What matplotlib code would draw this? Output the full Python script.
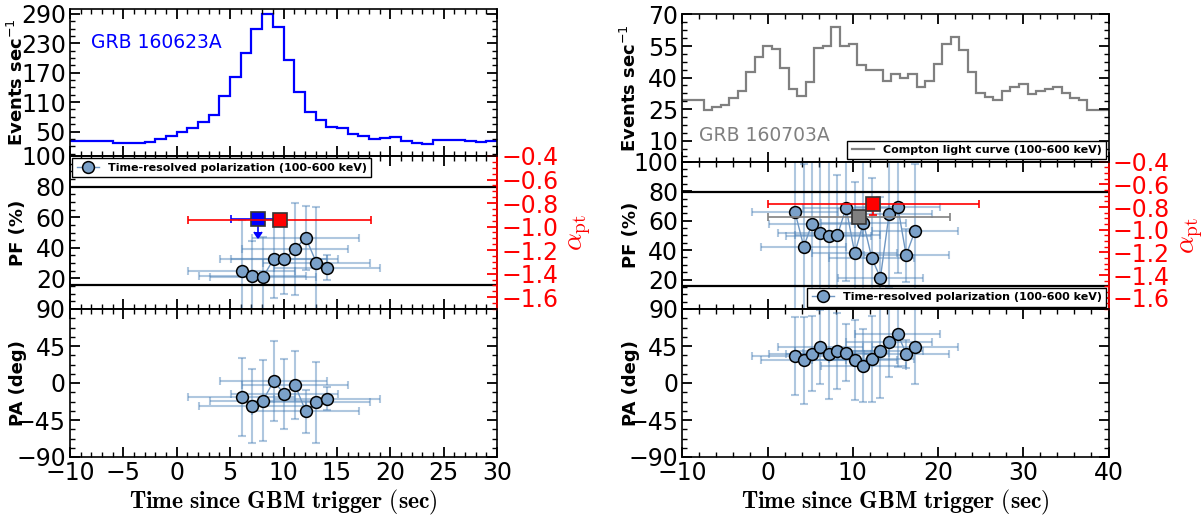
import numpy as np
import matplotlib
matplotlib.use('Agg')
import matplotlib.pyplot as plt
from matplotlib.ticker import MultipleLocator, AutoMinorLocator, FuncFormatter
from matplotlib.lines import Line2D

plt.rcParams['font.family'] = ['DejaVu Sans']

# ---------------- data: GRB 160623A ----------------
lc1_edges = np.arange(-10, 31, 1)
lc1_rate = [31, 31, 30.5, 31, 27, 27, 27, 28.5, 34, 40, 49, 57.5, 69, 83.5,
            122, 161, 211, 260, 290, 263, 195, 130, 90, 73, 60, 58, 45.5, 40,
            35.5, 37.5, 38.5, 30, 27.5, 25.5, 32, 32.5, 32, 30, 28.5, 31.5]
t1 = [6.08, 7.08, 8.08, 9.08, 10.08, 11.08, 12.08, 13.08, 14.08]
t1_err = [5, 5, 5, 5, 5, 5, 5, 5, 5]
pf1 = [25.0, 21.6, 20.9, 32.7, 32.7, 39.2, 46.6, 30.3, 27.0]
pf1_err = [33, 23, 26, 25.7, 23, 30, 21, 36.6, 8]
pa1 = [-16.8, -28.0, -21.3, 2.3, -13.5, -2.4, -34.4, -23.4, -19.2]
pa1_err = [47.5, 45.5, 49.7, 48.5, 42.5, 41.4, 26.4, 49.3, 13.8]
int1_t, int1_terr, int1_pf, int1_pferr = 7.6, 2.5, 58.6, 8.0
alpha1_t, alpha1_terr, alpha1 = 9.65, 8.55, -0.94

# ---------------- data: GRB 160703A ----------------
lc2_edges = np.arange(-10.5, 41.5, 1)
lc2_rate = [29.5, 29.5, 29.5, 24.4, 26, 27.1, 30.3, 33.5, 42.8, 49.8, 55.1,
            53.8, 44.7, 34.6, 31.4, 37.7, 54, 55.1, 64.2, 54.9, 55.9, 45.8,
            43.8, 43.8, 38.5, 41.8, 39.6, 41.8, 35.4, 38.6, 46.6, 55.9, 59.1,
            52.9, 42.6, 32.7, 30.6, 29.5, 33.7, 35.6, 36.9, 32.4, 33.8, 34.6,
            35.6, 32.7, 30.4, 29.5, 24.4, 24.4, 24.4]
t2 = [3.23, 4.25, 5.22, 6.2, 7.18, 8.2, 9.21, 10.23, 11.25, 12.23, 13.24,
      14.26, 15.28, 16.26, 17.31]
t2_err = [5] * 15
pf2 = [65.7, 42.3, 57.9, 51.6, 49.4, 50.0, 68.8, 37.8, 58.6, 34.6, 21.2,
       64.6, 69.5, 36.6, 53.2]
pf2_err = [70, 56, 55, 60, 55, 41, 50, 48.5, 45, 54.3, 55, 50, 45, 18, 45]
pa2 = [32.8, 27.6, 35.7, 43.8, 35.7, 38.9, 36.9, 28.4, 20.7, 29.2, 39.3,
       50.3, 59.6, 35.3, 43.8]
pa2_err = [47, 53, 46, 44.6, 54.6, 46, 35, 48.6, 44.4, 52, 57, 42.8, 39.6,
           16.5, 45.6]
int2_t, int2_terr, int2_pf, int2_pferr = 10.7, 10.7, 62.6, 4.0
alpha2_t, alpha2_terr, alpha2 = 12.4, 12.4, -0.777
alpha2_err = [[0.09], [0.03]]

alpha_limits = [-2.0 / 3.0, -1.5]
lc_yticks1 = [50, 110, 170, 230, 290]
lc_yticks2 = [10, 25, 40, 55, 70]
pf_yticks = [20, 40, 60, 80, 100]
pa_yticks = [-90, -45, 0, 45, 90]
alpha_yticks = [-0.4, -0.6, -0.8, -1.0, -1.2, -1.4, -1.6]

# ---------------- style ----------------
MFC = '#7ba1c9'
ECOL = '#4f83b8'
LCOL = '#6f97c2'
LABFS = 17

W, H = 1203.0, 516.0
fig = plt.figure(figsize=(W / 100, H / 100), dpi=100)


def add_ax(x0, x1, ytop, ybot):
    return fig.add_axes([x0 / W, 1 - ybot / H, (x1 - x0) / W, (ybot - ytop) / H])


def style(ax, right=True):
    ax.tick_params(which='both', direction='in', top=True, right=right,
                   labelsize=LABFS, pad=3)
    ax.tick_params(which='major', length=7, width=1.3)
    ax.tick_params(which='minor', length=3.5, width=1.0)
    for s in ax.spines.values():
        s.set_linewidth(1.2)


def red_fmt(v, p):
    return f'{v:.1f}'.replace('-', '\u2212')


def build(xl, xr, ytops, xlim, xmaj, xmin, lc_edges, lc_rate, lc_color,
          lc_ylim, lc_yticks, grb, grb_pos, t, terr, pf, pferr, pa, paerr,
          integ, alpha, legend_loc, top_legend):
    axt = add_ax(xl, xr, ytops[0], ytops[1])
    axm = add_ax(xl, xr, ytops[1], ytops[2])
    axb = add_ax(xl, xr, ytops[2], ytops[3])
    for ax in (axt, axm, axb):
        ax.set_xlim(*xlim)
        ax.xaxis.set_major_locator(MultipleLocator(xmaj))
        ax.xaxis.set_minor_locator(MultipleLocator(xmin))
        ax.yaxis.set_minor_locator(AutoMinorLocator())
    style(axt)
    style(axm, right=False)
    style(axb)
    axt.tick_params(labelbottom=False)
    axm.tick_params(labelbottom=False)

    # light curve
    axt.stairs(lc_rate, lc_edges, baseline=None, color=lc_color, lw=1.6)
    axt.set_ylim(*lc_ylim)
    axt.set_yticks(lc_yticks)
    axt.text(grb_pos[0], grb_pos[1], grb, color=lc_color, fontsize=13.5,
             transform=axt.transAxes, va='center', ha='left')
    axt.set_ylabel('Events sec$^{-1}$', fontsize=13, fontweight='bold')
    if top_legend:
        axt.legend(handles=[Line2D([], [], color=lc_color, lw=1.6)],
                   labels=['Compton light curve (100-600 keV)'],
                   loc='lower right', prop={'weight': 'bold', 'size': 8},
                   fancybox=False, edgecolor='k', framealpha=1,
                   borderpad=0.4, borderaxespad=0.2)

    # PF panel
    axm.errorbar(t, pf, xerr=terr, yerr=pferr, fmt='none', ecolor=ECOL,
                 alpha=0.45, elinewidth=1.5, capsize=3, capthick=1.5, zorder=2)
    axm.plot(t, pf, '-o', color=LCOL, lw=1, mfc=MFC, mec='k', ms=8.5,
             mew=1.1, zorder=3)
    axm.set_ylim(0, 100)
    axm.set_yticks(pf_yticks)
    axm.set_ylabel('PF (%)', fontsize=13, fontweight='bold')
    it, ite, ipf, ipfe, icol, iup = integ
    axm.errorbar([it], [ipf], xerr=[ite], yerr=[ipfe], uplims=iup, fmt='s',
                 color=icol, mfc=icol, mec='#333333', ms=10, mew=1.2,
                 elinewidth=1.2, capsize=3, zorder=6)

    tw = axm.twinx()
    tw.set_ylim(-1.7, -0.4)
    tw.set_yticks(alpha_yticks)
    tw.yaxis.set_major_formatter(FuncFormatter(red_fmt))
    tw.yaxis.set_minor_locator(AutoMinorLocator())
    tw.tick_params(axis='y', which='both', direction='in', colors='red',
                   labelsize=LABFS, pad=3)
    tw.tick_params(axis='y', which='major', length=7, width=1.3)
    tw.tick_params(axis='y', which='minor', length=3.5, width=1.0)
    for s in tw.spines.values():
        s.set_linewidth(1.2)
    tw.spines['right'].set_color('red')
    for a in alpha_limits:
        tw.axhline(a, color='k', lw=1.6, zorder=1)
    at, ate, av, aerr = alpha
    tw.errorbar([at], [av], xerr=[ate], yerr=aerr, fmt='s', color='red',
                mfc='red', mec='#333333', ms=10, mew=1.2, elinewidth=1.2,
                capsize=3, zorder=7)
    tw.set_ylabel(r'$\alpha_{\rm pt}$', color='red', fontsize=20,
                  math_fontfamily='cm')
    tw.yaxis.set_label_coords(1.16, 0.5)
    h = Line2D([], [], color=LCOL, lw=1, marker='o', mfc=MFC, mec='k',
               ms=8.5, mew=1.1)
    tw.legend(handles=[h], labels=['Time-resolved polarization (100-600 keV)'],
              loc=legend_loc, prop={'weight': 'bold', 'size': 8},
              fancybox=False, edgecolor='k', framealpha=1, numpoints=1,
              borderpad=0.4, borderaxespad=0.2)

    # PA panel
    axb.errorbar(t, pa, xerr=terr, yerr=paerr, fmt='none', ecolor=ECOL,
                 alpha=0.45, elinewidth=1.5, capsize=3, capthick=1.5, zorder=2)
    axb.plot(t, pa, '-o', color=LCOL, lw=1, mfc=MFC, mec='k', ms=8.5,
             mew=1.1, zorder=3)
    axb.set_ylim(-90, 90)
    axb.set_yticks(pa_yticks)
    axb.set_ylabel('PA (deg)', fontsize=13, fontweight='bold')
    axb.set_xlabel(r'$\mathbf{Time\ since\ GBM\ trigger\ (sec)}$',
                   fontsize=17, math_fontfamily='cm', labelpad=2)

    for ax in (axt, axm, axb):
        ax.yaxis.set_label_coords(-0.10, 0.5)


build(70, 497, [9, 156, 309, 457], (-10, 30), 5, 1, lc1_edges, lc1_rate,
      '#0000ff', (0, 300), lc_yticks1, 'GRB 160623A', (0.05, 0.77),
      t1, t1_err, pf1, pf1_err, pa1, pa1_err,
      (int1_t, int1_terr, int1_pf, int1_pferr, '#0000ff', True),
      (alpha1_t, alpha1_terr, alpha1, None), 'upper left', False)

build(682.3, 1108.5, [14.5, 161.7, 309, 457], (-10, 40), 10, 2, lc2_edges,
      lc2_rate, '#808080', (0, 70), lc_yticks2, 'GRB 160703A', (0.04, 0.18),
      t2, t2_err, pf2, pf2_err, pa2, pa2_err,
      (int2_t, int2_terr, int2_pf, int2_pferr, '#808080', False),
      (alpha2_t, alpha2_terr, alpha2, alpha2_err), 'lower right', True)

fig.savefig('out.png', dpi=100)
